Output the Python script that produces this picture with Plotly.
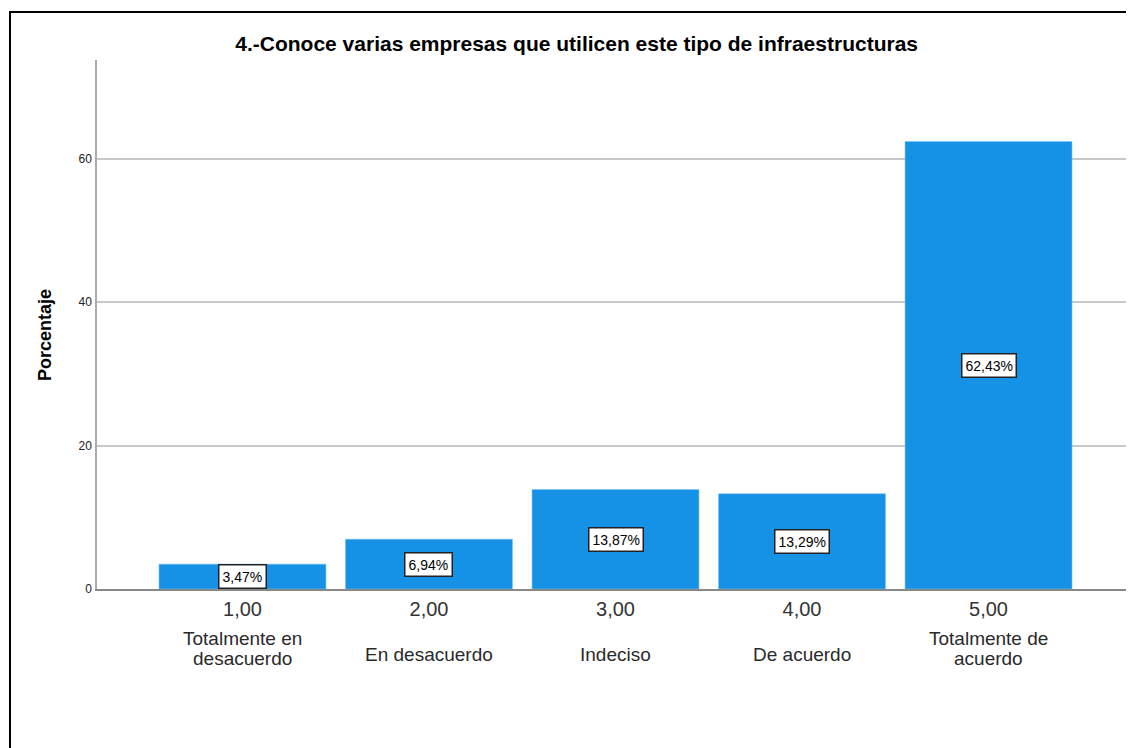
import plotly.graph_objects as go

codes = [1, 2, 3, 4, 5]
code_labels = ["1,00", "2,00", "3,00", "4,00", "5,00"]
categories = ["Totalmente en<br>desacuerdo", "En desacuerdo", "Indeciso", "De acuerdo", "Totalmente de<br>acuerdo"]
percentages = [3.47, 6.94, 13.87, 13.29, 62.43]
value_labels = ["3,47%", "6,94%", "13,87%", "13,29%", "62,43%"]

FONT = "Liberation Sans, Arial, sans-serif"

fig = go.Figure()
fig.add_trace(go.Bar(
    x=codes, y=percentages, width=0.895,
    marker=dict(color="#1591e6", line=dict(color="#7cc0f0", width=0.6)),
    hoverinfo="skip",
))

for c, v, lab in zip(codes, percentages, value_labels):
    fig.add_annotation(x=c, y=v / 2, text=lab, showarrow=False,
                       font=dict(family=FONT, size=14, color="#000"),
                       bgcolor="white", bordercolor="#222", borderwidth=1.5, borderpad=3)

# category labels: each line placed separately (tight line spacing)
for c, cat in zip(codes, categories):
    lines = cat.split("<br>")
    if len(lines) == 1:
        centers = [-65]
    else:
        centers = [-49, -69]
    for ln, sh in zip(lines, centers):
        fig.add_annotation(x=c, y=0, yref="y", text=ln, showarrow=False,
                           yanchor="middle", yshift=sh,
                           font=dict(family=FONT, size=19, color="#2a2a2a"))

# y-axis title
fig.add_annotation(xref="paper", yref="paper", x=-0.0502, y=0.48,
                   text="<b>Porcentaje</b>", textangle=-90, showarrow=False,
                   xanchor="center", yanchor="middle",
                   font=dict(family=FONT, size=18, color="#000"))

# outer frame
fig.add_shape(type="rect", xref="paper", yref="paper",
              x0=-0.0839, x1=1.05, y0=-0.6, y1=1.0907,
              line=dict(color="black", width=2), layer="above")

fig.update_layout(
    width=1126, height=740,
    margin=dict(l=89, r=0, t=52, b=159),
    paper_bgcolor="white", plot_bgcolor="white",
    showlegend=False,
    title=dict(text="<b>4.-Conoce varias empresas que utilicen este tipo de infraestructuras</b>",
               x=0.505, xref="container", xanchor="center", y=1 - 36 / 740, yanchor="middle",
               font=dict(family=FONT, size=21, color="#000")),
    xaxis=dict(range=[0.22, 5.78], tickvals=codes, ticktext=code_labels,
               showgrid=False, showline=True, linecolor="#888", linewidth=1.5,
               ticks="", ticklabelstandoff=1, tickfont=dict(family=FONT, size=20, color="#333"),
               zeroline=False),
    yaxis=dict(range=[0, 73.8], tickvals=[0, 20, 40, 60],
               showgrid=True, gridcolor="#c8c8c8", gridwidth=1.5,
               showline=True, linecolor="#aaa", linewidth=1.5,
               ticks="", ticklen=0, ticklabelstandoff=1,
               tickfont=dict(family=FONT, size=12, color="#222"),
               zeroline=False),
)

fig.write_html("out.html")
